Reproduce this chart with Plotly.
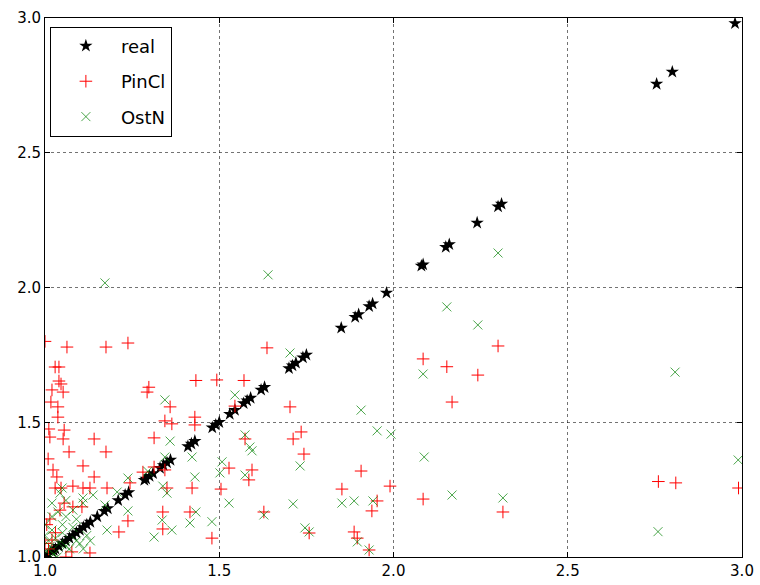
import plotly.graph_objects as go

real_x = [1.00, 1.01, 1.02, 1.025, 1.03, 1.04, 1.05, 1.06, 1.07, 1.08, 1.09, 1.10, 1.11,
          1.12, 1.13, 1.15, 1.17, 1.18, 1.21, 1.23, 1.24, 1.285, 1.29, 1.30, 1.31, 1.33,
          1.34, 1.35, 1.36, 1.41, 1.42, 1.43, 1.48, 1.49, 1.50, 1.53, 1.545, 1.57, 1.58,
          1.59, 1.62, 1.63, 1.70, 1.71, 1.72, 1.74, 1.75, 1.85, 1.89, 1.90, 1.93, 1.94,
          1.98, 2.08, 2.085, 2.15, 2.16, 2.24, 2.30, 2.31, 2.755, 2.80, 2.98]
real_y = list(real_x)

pincl_x = [2.76, 2.81, 2.99, 2.30, 2.085, 2.153, 2.242, 2.168, 2.085, 2.314,
           1.703, 1.735, 1.712, 1.743, 1.907, 1.852, 1.99, 1.953, 1.938, 1.887, 1.896, 1.758, 1.93,
           1.637, 1.433, 1.493, 1.571, 1.545, 1.43, 1.43, 1.344, 1.364, 1.574, 1.528, 1.594,
           1.585, 1.505, 1.35, 1.422, 1.338, 1.416, 1.628, 1.338, 1.479,
           1.238, 1.298, 1.293, 1.359, 1.313,
           1.313, 1.281, 1.344, 1.244, 1.238,
           1.0, 1.063, 1.175, 1.029, 1.04, 1.04, 1.046, 1.02, 1.052, 1.017, 1.037, 1.037,
           1.011, 1.055, 1.014, 1.052, 1.141, 1.069, 1.175, 1.009, 1.109, 1.023, 1.034, 1.141,
           1.029, 1.046, 1.08, 1.109, 1.129, 1.178, 1.055, 1.08, 1.106, 1.043, 1.014, 1.212,
           1.129, 1.077, 1.02, 1.0, 1.01, 1.03, 1.005, 1.06]
pincl_y = [1.28, 1.275, 1.256, 1.783, 1.735, 1.706, 1.675, 1.575, 1.215, 1.167,
           1.557, 1.464, 1.438, 1.382, 1.319, 1.252, 1.263, 1.208, 1.171, 1.093, 1.07, 1.089, 1.026,
           1.776, 1.655, 1.657, 1.655, 1.56, 1.519, 1.49, 1.505, 1.494, 1.438, 1.33, 1.323,
           1.286, 1.252, 1.256, 1.256, 1.167, 1.167, 1.167, 1.104, 1.07,
           1.794, 1.63, 1.612, 1.557, 1.442,
           1.334, 1.315, 1.323, 1.275, 1.134,
           1.80, 1.779, 1.779, 1.705, 1.705, 1.653, 1.642, 1.62, 1.612, 1.575, 1.557, 1.519,
           1.475, 1.471, 1.445, 1.438, 1.438, 1.39, 1.39, 1.364, 1.338, 1.323, 1.297, 1.297,
           1.256, 1.256, 1.263, 1.256, 1.256, 1.256, 1.2, 1.186, 1.186, 1.174, 1.141, 1.093,
           1.015, 1.019, 1.063, 1.05, 1.03, 1.09, 1.12, 1.0]

ostn_x = [2.808, 2.759, 2.989, 2.30, 2.153, 2.242, 2.085, 2.088, 2.168, 2.314,
          1.703, 1.907, 1.953, 1.993, 1.732, 1.712, 1.852, 1.887, 1.941, 1.746, 1.758, 1.896, 1.93,
          1.64, 1.172,
          1.344, 1.545, 1.359, 1.574, 1.588, 1.594, 1.422, 1.508, 1.502, 1.574, 1.43, 1.338,
          1.35, 1.528, 1.433, 1.628, 1.336, 1.364, 1.416, 1.479,
          1.344, 1.238, 1.295, 1.238, 1.313,
          1.207, 1.138, 1.109, 1.049, 1.109, 1.08, 1.037, 1.172, 1.178, 1.043, 1.06, 1.02, 1.09,
          1.0, 1.01, 1.02, 1.03, 1.04, 1.05, 1.06, 1.07, 1.08, 1.09, 1.10, 1.11, 1.005, 1.015,
          1.025, 1.035, 1.0, 1.05, 1.12, 1.13, 1.06, 1.02]
ostn_y = [1.686, 1.094, 1.36, 2.128, 1.928, 1.861, 1.679, 1.371, 1.23, 1.219,
          1.757, 1.545, 1.468, 1.456, 1.338, 1.197, 1.20, 1.208, 1.208, 1.108, 1.093, 1.056, 1.026,
          2.047, 2.017,
          1.583, 1.601, 1.43, 1.453, 1.408, 1.394, 1.371, 1.353, 1.312, 1.304, 1.297, 1.263,
          1.237, 1.2, 1.167, 1.156, 1.137, 1.1, 1.126, 1.131,
          1.371, 1.293, 1.318, 1.171, 1.074,
          1.241, 1.23, 1.219, 1.256, 1.2, 1.174, 1.167, 1.193, 1.1, 1.237, 1.21, 1.2, 1.14,
          1.08, 1.06, 1.1, 1.07, 1.05, 1.09, 1.04, 1.03, 1.11, 1.06, 1.05, 1.03, 1.02, 1.04,
          1.01, 1.0, 1.12, 1.12, 1.08, 1.06, 1.15, 1.15]

tick_vals = [1.0, 1.5, 2.0, 2.5, 3.0]
tick_text = ["1.0", "1.5", "2.0", "2.5", "3.0"]

fig = go.Figure()
fig.add_trace(go.Scatter(x=real_x, y=real_y, mode="markers", name="real", legendgroup="a",
                         marker=dict(symbol="star", size=10, color="black",
                                     line=dict(width=0))))
fig.add_trace(go.Scatter(x=pincl_x, y=pincl_y, mode="markers", name="PinCl", legendgroup="b",
                         marker=dict(symbol="cross-thin", size=9,
                                     line=dict(width=1, color="rgb(255,0,0)"))))
fig.add_trace(go.Scatter(x=ostn_x, y=ostn_y, mode="markers", name="OstN", legendgroup="c",
                         marker=dict(symbol="x-thin", size=9,
                                     line=dict(width=1, color="rgba(0,128,0,0.7)"))))

axis_common = dict(range=[1, 3], tickvals=tick_vals, ticktext=tick_text, automargin=False,
                   showgrid=True, gridcolor="rgba(0,0,0,0.55)", griddash="dot", gridwidth=1,
                   showline=True, linecolor="black", linewidth=1, mirror="ticks",
                   ticks="inside", ticklen=5, tickcolor="black", zeroline=False,
                   tickfont=dict(family="DejaVu Sans", size=15, color="black"))

fig.update_xaxes(**axis_common)
fig.update_yaxes(**axis_common)

fig.update_layout(
    width=760, height=585,
    margin=dict(l=45, r=18, t=18, b=28),
    paper_bgcolor="white", plot_bgcolor="white",
    showlegend=True,
    legend=dict(x=0.007, y=0.984, xanchor="left", yanchor="top",
                bordercolor="black", borderwidth=1, bgcolor="white",
                font=dict(family="DejaVu Sans", size=18, color="black"),
                itemwidth=60, traceorder="grouped", tracegroupgap=9),
)

fig.write_html("out.html", config={"displayModeBar": False},
               post_script="document.body.style.margin='0';document.body.style.overflow='hidden';")
